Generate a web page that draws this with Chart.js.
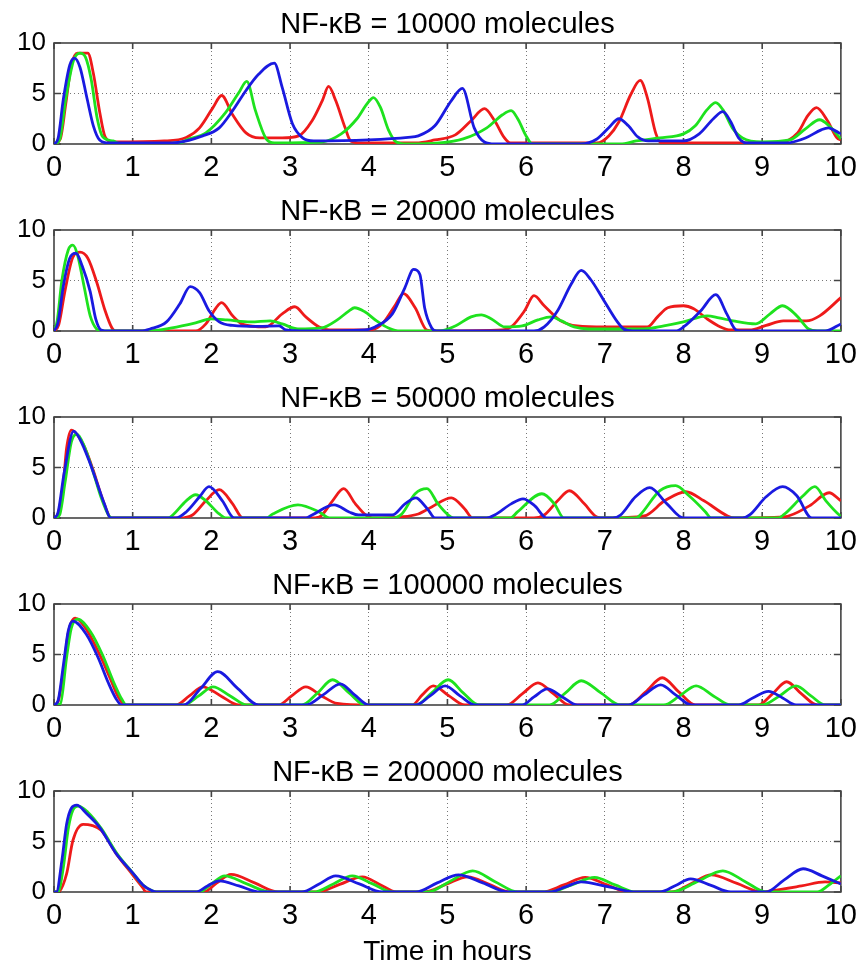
<!DOCTYPE html>
<html>
<head>
<meta charset="utf-8">
<script src="https://cdn.jsdelivr.net/npm/chart.js@4.4.0/dist/chart.umd.min.js"></script>
<style>
  body { margin: 0; background: #fff; }
  .painel { position: absolute; left: 0; width: 864px; }
</style>
</head>
<body>
<div class="painel" style="top:0px;height:187px"><canvas id="g1"></canvas></div>
<div class="painel" style="top:187px;height:187px"><canvas id="g2"></canvas></div>
<div class="painel" style="top:374px;height:187px"><canvas id="g3"></canvas></div>
<div class="painel" style="top:561px;height:187px"><canvas id="g4"></canvas></div>
<div class="painel" style="top:748px;height:221px"><canvas id="g5"></canvas></div>
<script>
const titulos = [
  "NF-κB = 10000 molecules",
  "NF-κB = 20000 molecules",
  "NF-κB = 50000 molecules",
  "NF-κB = 100000 molecules",
  "NF-κB = 200000 molecules"
];
const rotuloX = "Time in hours";
const ticksX = [0, 1, 2, 3, 4, 5, 6, 7, 8, 9, 10];
const ticksY = [0, 5, 10];
const fonte = "'Liberation Sans', Arial, sans-serif";

// 10000 moleculas: [tempo, valor]
const vermelho1 = [[0,0],[0.08,0.5],[0.15,4],[0.22,7.8],[0.3,9.0],[0.43,9.0],[0.5,7],[0.58,3.2],[0.65,0.7],[0.75,0.2],[1.4,0.3],[1.68,0.65],[1.85,1.6],[2.02,3.6],[2.13,4.8],[2.27,2.9],[2.44,1.1],[2.61,0.6],[2.9,0.6],[3.11,0.8],[3.28,2.3],[3.41,4.3],[3.49,5.7],[3.58,4.3],[3.7,1.6],[3.77,0.3],[3.9,0.1],[4.6,0.1],[4.84,0.4],[5.1,0.9],[5.3,2.3],[5.47,3.5],[5.6,2.3],[5.72,0.65],[5.8,0.1],[6.9,0.1],[7.05,0.8],[7.18,2.2],[7.33,4.9],[7.45,6.3],[7.54,4.6],[7.65,1.0],[7.72,0.1],[9.2,0.1],[9.45,1.1],[9.58,2.8],[9.69,3.6],[9.83,2.3],[9.95,0.6],[10,0.4]];
const verde1 = [[0,0],[0.07,0.4],[0.15,4.5],[0.25,8.3],[0.33,9.0],[0.4,8.6],[0.47,6.5],[0.55,2.5],[0.62,0.7],[0.75,0.3],[0.85,0],[1.6,0.1],[1.68,0.4],[1.93,1.1],[2.18,3.1],[2.35,5.1],[2.45,6.2],[2.56,3.3],[2.69,0.6],[2.8,0.1],[3.4,0.2],[3.65,1.0],[3.85,2.5],[3.98,4.0],[4.06,4.6],[4.15,3.6],[4.25,1.4],[4.35,0.2],[4.5,0],[4.9,0.1],[5.2,0.5],[5.5,1.6],[5.7,2.9],[5.81,3.3],[5.9,2.4],[6.0,0.8],[6.08,0],[7.2,0],[7.4,0.3],[7.7,0.6],[8.0,1.0],[8.15,1.8],[8.3,3.4],[8.41,4.1],[8.5,3.4],[8.62,1.6],[8.75,0.6],[9.0,0.2],[9.35,0.4],[9.55,1.5],[9.73,2.4],[9.85,1.8],[10,0.5]];
const azul1 = [[0,0],[0.05,0.5],[0.12,4.5],[0.2,7.8],[0.26,8.5],[0.33,7.6],[0.42,4.5],[0.5,1.8],[0.58,0.4],[0.7,0.1],[1.5,0.1],[1.89,0.8],[2.1,1.6],[2.27,3.3],[2.44,5.3],[2.6,6.9],[2.8,8.0],[2.9,5.6],[3.03,2.0],[3.16,0.6],[3.3,0.3],[4.0,0.4],[4.5,0.65],[4.63,0.8],[4.84,1.8],[5.05,4.3],[5.19,5.5],[5.34,1.6],[5.47,0.2],[5.6,0],[6.7,0],[6.9,0.5],[7.05,1.6],[7.18,2.5],[7.3,1.8],[7.42,0.7],[7.55,0.3],[8.0,0.3],[8.2,1.0],[8.38,2.5],[8.5,3.2],[8.6,2.2],[8.7,0.6],[8.8,0.1],[9.3,0.1],[9.55,0.6],[9.75,1.4],[9.84,1.6],[9.93,1.3],[10,1.0]];

// 20000 moleculas
const vermelho2 = [[0,0],[0.06,0.6],[0.14,4],[0.24,7.3],[0.33,7.8],[0.43,7.2],[0.54,4.9],[0.65,2.0],[0.73,0.4],[0.78,0],[1.8,0],[1.93,0.7],[2.06,2.3],[2.13,2.8],[2.27,1.5],[2.4,0.65],[2.69,0.4],[2.9,1.7],[3.06,2.4],[3.2,1.4],[3.37,0.4],[3.5,0.1],[4.0,0.1],[4.17,0.7],[4.34,2.6],[4.44,3.7],[4.59,2.3],[4.74,0.1],[4.9,0],[5.7,0.1],[5.81,0.4],[5.98,2.0],[6.1,3.5],[6.23,2.5],[6.44,1.0],[6.65,0.5],[7.0,0.4],[7.54,0.4],[7.67,1.4],[7.8,2.3],[8.0,2.5],[8.13,2.2],[8.3,1.2],[8.47,0.4],[8.6,0.1],[8.84,0.1],[9.05,0.55],[9.27,1.0],[9.56,1.0],[9.73,1.5],[10,3.3]];
const verde2 = [[0,0],[0.04,1.0],[0.1,5],[0.18,8.0],[0.24,8.5],[0.3,7.5],[0.38,4.5],[0.46,1.5],[0.54,0.2],[0.6,0],[1.2,0],[1.5,0.3],[1.8,0.8],[2.0,1.2],[2.2,1.1],[2.5,0.9],[2.75,1.0],[2.9,0.7],[3.1,0.2],[3.4,0.3],[3.6,1.1],[3.75,2.0],[3.82,2.3],[3.95,1.9],[4.1,1.0],[4.25,0.3],[4.4,0],[4.9,0],[5.1,0.5],[5.3,1.4],[5.43,1.6],[5.56,1.2],[5.73,0.4],[5.95,0.5],[6.15,1.1],[6.32,1.4],[6.45,1.0],[6.61,0.4],[6.8,0.2],[7.5,0.2],[7.75,0.5],[8.0,0.9],[8.3,1.5],[8.45,1.3],[8.63,1.0],[8.92,0.7],[9.1,1.7],[9.26,2.5],[9.44,1.5],[9.59,0.2],[9.7,0],[10,0]];
const azul2 = [[0,0],[0.05,0.8],[0.12,4.5],[0.2,7.2],[0.28,7.7],[0.36,6.4],[0.46,3.9],[0.53,1.2],[0.6,0.1],[0.7,0],[1.1,0],[1.22,0.2],[1.43,0.9],[1.6,2.7],[1.73,4.4],[1.85,3.8],[1.97,2.0],[2.1,0.9],[2.27,0.55],[2.6,0.45],[2.86,0.5],[2.95,0.1],[3.2,0],[3.95,0.1],[4.08,0.4],[4.3,1.7],[4.46,4.3],[4.57,6.1],[4.65,5.6],[4.71,2.3],[4.8,0.3],[4.86,0],[6.1,0],[6.23,0.4],[6.4,2.0],[6.57,4.6],[6.7,6.0],[6.82,5.1],[6.99,3.0],[7.16,0.9],[7.24,0.2],[7.35,0],[7.9,0],[8.0,0.4],[8.22,2.0],[8.41,3.6],[8.55,1.7],[8.67,0.1],[8.8,0],[9.8,0],[10,0.7]];

// 50000 moleculas
const vermelho3 = [[0,0],[0.05,0.4],[0.12,3.6],[0.16,6.9],[0.22,8.7],[0.37,7.3],[0.5,4.7],[0.58,2.7],[0.67,0.75],[0.72,0],[1.6,0],[1.76,0.3],[1.93,1.7],[2.1,2.8],[2.27,1.4],[2.4,0],[3.25,0],[3.37,0.1],[3.54,1.7],[3.68,2.9],[3.83,1.4],[3.96,0.3],[4.05,0],[4.4,0.1],[4.63,0.4],[4.8,1.1],[5.05,2.0],[5.22,0.9],[5.32,0],[6.1,0],[6.23,0.3],[6.4,1.7],[6.55,2.7],[6.74,1.4],[6.9,0.1],[7.0,0],[7.5,0.2],[7.76,1.7],[8.03,2.6],[8.26,1.7],[8.56,0.2],[8.65,0],[9.27,0.1],[9.6,1.2],[9.85,2.5],[10,1.7]];
const verde3 = [[0,0],[0.07,0.3],[0.14,3.5],[0.22,7.5],[0.29,8.3],[0.38,7.2],[0.5,4.5],[0.6,2.0],[0.7,0.2],[0.74,0],[1.45,0],[1.51,0.3],[1.68,1.7],[1.8,2.3],[1.93,1.7],[2.1,0.4],[2.19,0],[2.7,0],[2.78,0.4],[3.1,1.3],[3.37,0.6],[3.5,0],[4.3,0],[4.42,0.4],[4.59,2.4],[4.74,2.9],[4.88,1.4],[5.01,0.3],[5.08,0],[5.8,0],[5.89,0.6],[6.2,2.4],[6.36,1.4],[6.48,0],[7.4,0],[7.45,0.3],[7.7,2.7],[7.9,3.2],[8.07,2.2],[8.28,0.6],[8.35,0],[9.2,0],[9.27,0.3],[9.52,2.2],[9.67,3.1],[9.81,1.7],[9.98,0.3],[10,0.2]];
const azul3 = [[0,0],[0.05,0.5],[0.13,4.5],[0.25,8.6],[0.33,7.8],[0.45,5.6],[0.55,3.4],[0.64,1.4],[0.72,0],[1.55,0],[1.68,0.6],[1.85,2.1],[1.97,3.1],[2.14,1.7],[2.29,0],[3.2,0],[3.28,0.3],[3.56,1.3],[3.75,0.6],[3.87,0.3],[4.3,0.3],[4.46,1.4],[4.6,2.0],[4.63,1.9],[4.76,0.75],[4.84,0],[5.5,0],[5.6,0.3],[5.81,1.4],[5.96,1.9],[6.11,1.2],[6.26,0],[7.1,0],[7.2,0.3],[7.39,2.1],[7.57,3.0],[7.79,1.4],[8.0,0],[8.75,0],[8.84,0.3],[9.05,2.1],[9.26,3.1],[9.44,2.2],[9.63,0],[10,0]];

// 100000 moleculas
const vermelho4 = [[0,0],[0.05,0.3],[0.12,3.4],[0.18,7.1],[0.27,8.6],[0.41,7.5],[0.58,5.0],[0.71,2.7],[0.81,0.9],[0.9,0],[1.55,0],[1.72,0.9],[1.89,1.8],[2.12,0.9],[2.35,0],[2.85,0],[3.02,0.9],[3.2,1.8],[3.4,0.9],[3.6,0.15],[4.0,0],[4.55,0],[4.68,1.0],[4.82,1.9],[5.02,0.9],[5.22,0],[5.75,0],[5.95,1.1],[6.15,2.2],[6.35,1.1],[6.55,0],[7.3,0],[7.52,1.3],[7.73,2.7],[7.94,1.3],[8.15,0],[8.95,0],[9.13,1.1],[9.31,2.3],[9.5,1.1],[9.7,0],[10,0]];
const verde4 = [[0,0],[0.08,0.1],[0.16,4.7],[0.22,7.6],[0.3,8.5],[0.46,7.3],[0.62,4.9],[0.75,2.4],[0.86,0.6],[0.92,0],[1.65,0],[1.84,0.9],[2.02,1.8],[2.24,0.9],[2.45,0],[3.15,0],[3.35,1.2],[3.54,2.5],[3.75,1.2],[3.95,0],[4.6,0],[4.8,1.2],[5.01,2.5],[5.2,1.2],[5.4,0],[6.3,0],[6.5,1.2],[6.7,2.4],[6.95,1.2],[7.2,0],[7.75,0],[7.95,0.9],[8.16,1.9],[8.38,0.9],[8.6,0],[9.0,0],[9.22,0.9],[9.43,1.9],[9.62,0.9],[9.8,0],[10,0]];
const azul4 = [[0,0],[0.05,0.4],[0.12,4.0],[0.18,7.3],[0.24,8.3],[0.41,7.0],[0.56,4.7],[0.69,2.2],[0.79,0.6],[0.86,0],[1.65,0],[1.86,1.6],[2.08,3.3],[2.34,1.6],[2.6,0],[3.2,0],[3.42,1.0],[3.64,2.1],[3.82,1.0],[4.0,0],[4.6,0],[4.78,0.9],[4.97,1.9],[5.16,0.9],[5.35,0],[5.95,0],[6.1,0.8],[6.27,1.6],[6.46,0.8],[6.65,0],[7.3,0],[7.5,1.0],[7.71,2.0],[7.9,1.0],[8.1,0],[8.7,0],[8.88,0.7],[9.08,1.35],[9.26,0.7],[9.43,0],[10,0]];

// 200000 moleculas
const vermelho5 = [[0,0],[0.05,0],[0.16,1.8],[0.24,5.1],[0.37,6.7],[0.48,6.6],[0.6,6.1],[0.79,3.8],[1.0,1.7],[1.13,0.4],[1.17,0],[1.9,0],[2.07,0.9],[2.25,1.75],[2.55,0.9],[2.85,0],[3.35,0],[3.63,0.75],[3.92,1.5],[4.14,0.75],[4.35,0],[4.7,0],[4.98,0.75],[5.26,1.5],[5.53,0.75],[5.8,0],[6.2,0],[6.48,0.7],[6.75,1.45],[7.03,0.7],[7.3,0],[7.85,0],[8.1,0.85],[8.35,1.7],[8.68,0.85],[9.0,0],[9.1,0.1],[9.5,0.6],[9.8,1.0],[10,0.9]];
const verde5 = [[0,0],[0.05,0],[0.12,2.5],[0.18,6.2],[0.24,8.1],[0.31,8.5],[0.43,7.9],[0.6,6.3],[0.8,3.8],[1.0,1.9],[1.13,0.7],[1.24,0.15],[1.3,0],[1.85,0],[2.0,0.8],[2.17,1.6],[2.45,0.8],[2.75,0],[3.3,0],[3.55,0.8],[3.79,1.6],[4.05,0.8],[4.3,0],[4.75,0],[5.03,1.05],[5.32,2.1],[5.6,1.05],[5.9,0],[6.3,0],[6.58,0.7],[6.87,1.45],[7.13,0.7],[7.4,0],[7.85,0],[8.18,1.05],[8.5,2.1],[8.78,1.05],[9.05,0],[9.7,0],[9.85,0.7],[10,1.6]];
const azul5 = [[0,0],[0.03,0],[0.1,3.1],[0.16,6.7],[0.22,8.3],[0.29,8.6],[0.41,7.8],[0.58,6.4],[0.79,3.8],[1.0,1.9],[1.13,0.7],[1.24,0.15],[1.3,0],[1.8,0],[1.95,0.6],[2.1,1.1],[2.35,0.6],[2.62,0],[3.15,0],[3.37,0.8],[3.58,1.6],[3.88,0.8],[4.17,0],[4.6,0],[4.87,0.9],[5.14,1.7],[5.45,0.9],[5.77,0],[6.3,0],[6.5,0.5],[6.7,1.0],[7.05,0.5],[7.4,0],[7.7,0],[7.9,0.65],[8.09,1.3],[8.35,0.65],[8.6,0],[9.05,0],[9.28,1.2],[9.52,2.3],[9.76,1.6],[10,0.8]];

const cores = { vermelho: "#ee1a1a", verde: "#1ee21e", azul: "#1a1ae0" };

// caixa e tracinhos para dentro, estilo matlab
const caixa = {
  id: "caixa",
  beforeDatasetsDraw(chart) {
    const { ctx, chartArea: a, scales } = chart;
    ctx.save();
    ctx.strokeStyle = "#444";
    ctx.lineWidth = 1.6;
    ctx.strokeRect(a.left, a.top, a.right - a.left, a.bottom - a.top);
    ctx.beginPath();
    ticksX.forEach(v => {
      const x = scales.x.getPixelForValue(v);
      ctx.moveTo(x, a.top); ctx.lineTo(x, a.top + 6);
      ctx.moveTo(x, a.bottom); ctx.lineTo(x, a.bottom - 6);
    });
    ticksY.forEach(v => {
      const y = scales.y.getPixelForValue(v);
      ctx.moveTo(a.left, y); ctx.lineTo(a.left + 7, y);
      ctx.moveTo(a.right, y); ctx.lineTo(a.right - 7, y);
    });
    ctx.stroke();
    ctx.restore();
  }
};

function criarGrafico(id, titulo, series, comEixo) {
  const datasets = series.map(s => ({
    data: s.pontos.map(p => ({ x: p[0], y: p[1] })),
    borderColor: s.cor,
    borderWidth: 2.8,
    pointRadius: 0,
    fill: false,
    cubicInterpolationMode: "monotone"
  }));

  new Chart(document.getElementById(id), {
    type: "line",
    data: { datasets },
    options: {
      responsive: true,
      maintainAspectRatio: false,
      animation: false,
      layout: { padding: { left: 0, right: 19, top: 0, bottom: 0 } },
      plugins: {
        legend: { display: false },
        tooltip: { enabled: false },
        title: {
          display: true,
          text: titulo,
          fullSize: false,
          color: "#000",
          font: { family: fonte, size: 29, weight: "normal", lineHeight: 1 },
          padding: { top: 10.5, bottom: 3.5 }
        }
      },
      scales: {
        x: {
          type: "linear",
          min: 0,
          max: 10,
          afterBuildTicks: s => { s.ticks = ticksX.map(v => ({ value: v })); },
          afterFit: s => { s.height = comEixo ? 77 : 43; },
          ticks: { color: "#000", font: { family: fonte, size: 29 }, padding: 7, maxRotation: 0, autoSkip: false },
          grid: {
            color: c => (c.tick && (c.tick.value === 0 || c.tick.value === 10)) ? "rgba(0,0,0,0)" : "#777",
            drawTicks: false,
            lineWidth: 1
          },
          border: { display: false, dash: [1, 3] },
          title: {
            display: comEixo,
            text: rotuloX,
            color: "#000",
            font: { family: fonte, size: 28, lineHeight: 1 },
            padding: { top: 0, bottom: 3 }
          }
        },
        y: {
          min: 0,
          max: 10,
          afterBuildTicks: s => { s.ticks = ticksY.map(v => ({ value: v })); },
          afterFit: s => { s.width = 54; },
          ticks: { color: "#000", font: { family: fonte, size: 26 }, padding: 8 },
          grid: {
            color: c => (c.tick && c.tick.value === 5) ? "#777" : "rgba(0,0,0,0)",
            drawTicks: false,
            lineWidth: 1
          },
          border: { display: false, dash: [1, 3] }
        }
      }
    },
    plugins: [caixa]
  });
}

// azul por cima, depois verde, depois vermelho
criarGrafico("g1", titulos[0], [{ pontos: azul1, cor: cores.azul }, { pontos: verde1, cor: cores.verde }, { pontos: vermelho1, cor: cores.vermelho }], false);
criarGrafico("g2", titulos[1], [{ pontos: azul2, cor: cores.azul }, { pontos: verde2, cor: cores.verde }, { pontos: vermelho2, cor: cores.vermelho }], false);
criarGrafico("g3", titulos[2], [{ pontos: azul3, cor: cores.azul }, { pontos: verde3, cor: cores.verde }, { pontos: vermelho3, cor: cores.vermelho }], false);
criarGrafico("g4", titulos[3], [{ pontos: azul4, cor: cores.azul }, { pontos: verde4, cor: cores.verde }, { pontos: vermelho4, cor: cores.vermelho }], false);
criarGrafico("g5", titulos[4], [{ pontos: azul5, cor: cores.azul }, { pontos: verde5, cor: cores.verde }, { pontos: vermelho5, cor: cores.vermelho }], true);
</script>
</body>
</html>
